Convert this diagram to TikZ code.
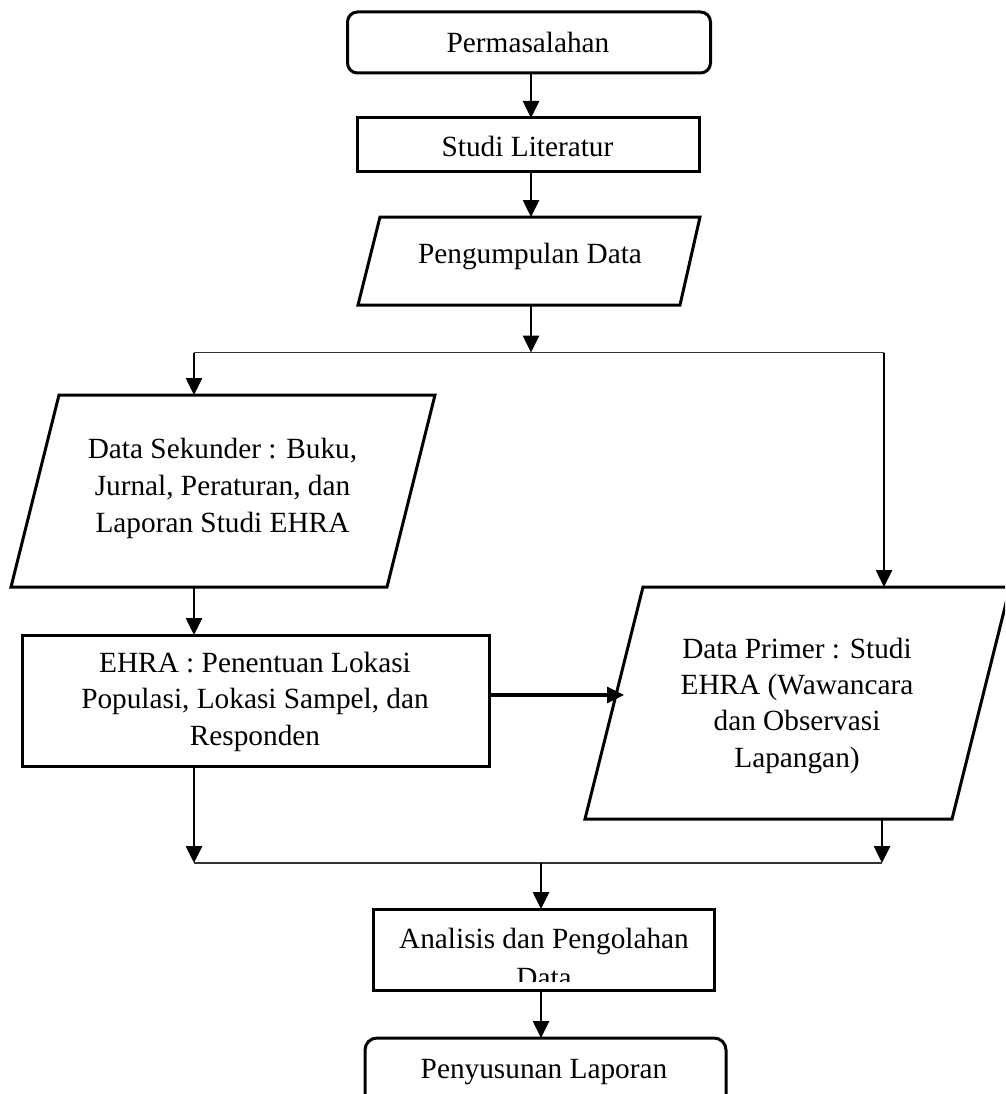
\documentclass[tikz,border=0pt]{standalone}
\usepackage{fontspec}
\setmainfont{Liberation Serif}
\usetikzlibrary{arrows.meta}
\newcommand\fsz{\fontsize{29.3pt}{36.7pt}\selectfont}
\newcommand\mytxt[1]{\parbox[t]{480pt}{\centering #1}}
\begin{document}
\begin{tikzpicture}[x=1pt,y=-1pt,
  boxst/.style={draw, line width=3pt, inner sep=0pt, outer sep=0pt},
  rboxst/.style={boxst, rounded corners=10pt},
  shp/.style={draw, line width=3pt, line join=miter},
  txt/.style={inner sep=0pt, anchor=base, font=\fsz},
  arr/.style={line width=2.6pt, -{Triangle[length=17pt,width=16pt]}},
  arrb/.style={line width=3.2pt, -{Triangle[length=17pt,width=16pt]}},
  bar/.style={line width=1.6pt, draw=black!80}]
\useasboundingbox (0,0) rectangle (1005,1094);
\fill[white] (0,0) rectangle (1005,1094);
\clip (0,0) rectangle (1005,1094);

% ---- shapes ----
\node[rboxst, minimum width=363pt, minimum height=61pt] (perm) at (529,42.5) {};
\node[boxst, minimum width=342pt, minimum height=54pt] (studi) at (528,145) {};
\draw[shp] (380,217) coordinate (pd-tl) -- (700,217) -- (680,305) -- (358,305) coordinate (pd-bl) -- cycle;
\coordinate (pd-top) at (531,217);
\coordinate (pd-bot) at (531,305);

\draw[shp] (59,395) -- (435,395) -- (387,587) -- (11,587) -- cycle;
\coordinate (ds-top) at (194,395);
\coordinate (ds-bot) at (194,587);

\node[boxst, minimum width=467pt, minimum height=131pt] (ehra) at (255.5,700.5) {};

\draw[shp] (643,587) -- (1010,587) -- (952,819) -- (585,819) -- cycle;
\coordinate (dp-top) at (884,587);
\coordinate (dp-bot) at (882,819);
\coordinate (dp-left) at (624,695);

\node[boxst, minimum width=341pt, minimum height=81pt] (an) at (543.5,949.5) {};
\node[rboxst, rounded corners=12pt, minimum width=361pt, minimum height=110pt] (peny) at (545.5,1093) {};

% ---- texts ----
\node[txt] (tperm) at (528,53) {Permasalahan};
\node[txt] (tstudi) at (527.5,157) {Studi Literatur};
\node[txt] (tpd) at (530,263) {Pengumpulan Data};
\node[txt, font=\fontsize{29.3pt}{37pt}\selectfont] (tds) at (222.5,458) {\mytxt{Data Sekunder : Buku,\\Jurnal, Peraturan, dan\\Laporan Studi EHRA}};
\node[txt, font=\fontsize{29.3pt}{36.5pt}\selectfont] (tehra) at (255,672) {\mytxt{EHRA : Penentuan Lokasi\\Populasi, Lokasi Sampel, dan\\Responden}};
\node[txt, font=\fontsize{29.3pt}{36.4pt}\selectfont] (tdp) at (797,658) {\mytxt{Data Primer : Studi\\EHRA (Wawancara\\dan Observasi\\Lapangan)}};
\begin{scope}
\clip (374,911) rectangle (713,981.5);
\node[txt, font=\fontsize{29.3pt}{39pt}\selectfont] (tan) at (544,948) {\mytxt{Analisis dan Pengolahan\\Data}};
\end{scope}
\node[txt] (tpeny) at (544,1078) {Penyusunan Laporan};

% ---- connectors ----
\coordinate (j1) at (531,352.5);
\coordinate (j1l) at (194,352.5);
\coordinate (j1r) at (884,352.5);
\coordinate (j2) at (541,863);
\coordinate (j2l) at (194,863);
\coordinate (j2r) at (882,863);

\draw[arr] (perm.south -| pd-top) -- (studi.north -| pd-top);
\draw[arr] (studi.south -| pd-top) -- (pd-top);
\draw[arr] (pd-bot) -- (j1);
\draw[bar] (j1l) -- (j1r);
\draw[arr] (j1l) -- (ds-top);
\draw[arr] (j1r) -- (dp-top);
\draw[arr] (ds-bot) -- (ehra.north -| ds-bot);
\draw[arrb] (ehra.east |- dp-left) -- (dp-left);
\draw[arr] (ehra.south -| j2l) -- (j2l);
\draw[arr] (dp-bot) -- (j2r);
\draw[bar] (j2l) -- (j2r);
\draw[arr] (j2) -- (an.north -| j2);
\draw[arr] (an.south -| j2) -- (peny.north -| j2);
\end{tikzpicture}
\end{document}
